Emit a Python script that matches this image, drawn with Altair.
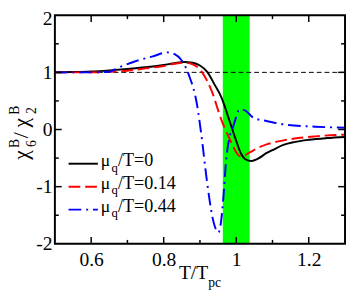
import altair as alt
import pandas as pd

# ---- data ----
x_black = [0.5, 0.55, 0.6, 0.65, 0.7, 0.75, 0.8, 0.83, 0.855, 0.88, 0.9, 0.92, 0.94, 0.96, 0.98, 1.0, 1.013, 1.025, 1.042, 1.06, 1.084, 1.1, 1.13, 1.16, 1.2, 1.25, 1.3]
y_black = [1.0, 1.005, 1.015, 1.035, 1.06, 1.09, 1.13, 1.16, 1.18, 1.17, 1.12, 1.01, 0.79, 0.55, 0.18, -0.2, -0.42, -0.52, -0.55, -0.51, -0.41, -0.36, -0.27, -0.22, -0.18, -0.15, -0.13]

x_red = [0.5, 0.55, 0.6, 0.65, 0.7, 0.75, 0.8, 0.83, 0.855, 0.88, 0.905, 0.932, 0.959, 0.977, 0.99, 1.0, 1.008, 1.017, 1.035, 1.06, 1.084, 1.1, 1.13, 1.17, 1.218, 1.26, 1.3]
y_red = [1.0, 1.0, 1.0, 1.01, 1.03, 1.07, 1.11, 1.15, 1.17, 1.14, 1.01, 0.68, 0.17, -0.1, -0.27, -0.4, -0.46, -0.47, -0.41, -0.32, -0.26, -0.23, -0.19, -0.15, -0.12, -0.1, -0.09]

x_blue = [0.5, 0.55, 0.6, 0.65, 0.67, 0.72, 0.77, 0.811, 0.83, 0.847, 0.869, 0.892, 0.904, 0.919, 0.935, 0.945, 0.951, 0.958, 0.965, 0.972, 0.98, 0.99, 1.0, 1.008, 1.022, 1.049, 1.084, 1.13, 1.218, 1.3]
y_blue = [1.0, 1.0, 1.0, 1.01, 1.07, 1.19, 1.28, 1.35, 1.32, 1.23, 0.96, 0.43, -0.1, -0.89, -1.55, -1.76, -1.8, -1.62, -1.15, -0.55, -0.18, 0.02, 0.22, 0.35, 0.34, 0.2, 0.15, 0.09, 0.05, 0.03]

band_range = [0.963, 1.037]
ref_level = [1.0]
x_major_ticks = [0.6, 0.8, 1.0, 1.2]
x_minor_ticks = [0.7, 0.9, 1.1]
y_major_ticks = [-1, 0, 1]
y_minor_ticks = [-1.5, -0.5, 0.5, 1.5]
x_tick_labels = [0.6, 0.8, 1.0, 1.2]
y_tick_labels = [-2, -1, 0, 1, 2]
legend_labels = ["/T=0", "/T=0.14", "/T=0.44"]

# ---- layout ----
TOP = 4
W, H = 297, 238 - TOP
SERIF = "Liberation Serif"
xs = alt.Scale(domain=[0.5, 1.3], nice=False, zero=False)
ys = alt.Scale(domain=[-2, 2], nice=False, zero=False)
xaxis = alt.Axis(values=x_tick_labels, format="~g", domain=False, ticks=False, grid=False,
                 title=None, labelFont=SERIF, labelFontSize=20, labelColor="black",
                 labelPadding=6, labelFlush=False, labelOverlap=False)
yaxis = alt.Axis(values=y_tick_labels, labelExpr="'' + datum.value", domain=False, ticks=False,
                 grid=False, title=None, labelFont=SERIF, labelFontSize=20, labelColor="black",
                 labelPadding=3, labelFlush=False, labelOverlap=False,
                 labelOffset={"condition": {"test": "datum.value == 2", "value": 3}, "value": 0})

layers = []

band = alt.Chart(pd.DataFrame({"lo": [band_range[0]], "hi": [band_range[1]]})).mark_rect(
    color="#00ff00").encode(x=alt.X("lo:Q", scale=xs, axis=xaxis), x2="hi:Q",
                            y=alt.value(0), y2=alt.value(H))
layers.append(band)

ref = alt.Chart(pd.DataFrame({"v": ref_level})).mark_rule(
    color="black", strokeWidth=1, strokeDash=[5, 3]).encode(y=alt.Y("v:Q", scale=ys, axis=yaxis))
layers.append(ref)


def curve(xv, yv, color, **kw):
    df = pd.DataFrame({"x": xv, "y": yv})
    return alt.Chart(df).mark_line(color=color, strokeWidth=2, interpolate="monotone", **kw).encode(
        x=alt.X("x:Q", scale=xs, axis=xaxis), y=alt.Y("y:Q", scale=ys, axis=yaxis))


layers.append(curve(x_black, y_black, "black"))
layers.append(curve(x_red, y_red, "#ff0000", strokeDash=[12, 5]))
layers.append(curve(x_blue, y_blue, "#0000ff", strokeDash=[13, 5, 2, 5]))


def xticks(vals, length):
    df = pd.DataFrame({"v": vals})
    base = alt.Chart(df).mark_rule(color="black", strokeWidth=1.5)
    enc = alt.X("v:Q", scale=xs, axis=xaxis)
    return [base.encode(x=enc, y=alt.value(H), y2=alt.value(H - length)),
            base.encode(x=enc, y=alt.value(0), y2=alt.value(length))]


def yticks(vals, length):
    df = pd.DataFrame({"v": vals})
    base = alt.Chart(df).mark_rule(color="black", strokeWidth=1.5)
    enc = alt.Y("v:Q", scale=ys, axis=yaxis)
    return [base.encode(y=enc, x=alt.value(0), x2=alt.value(length)),
            base.encode(y=enc, x=alt.value(W), x2=alt.value(W - length))]


layers += xticks(x_major_ticks, 7) + xticks(x_minor_ticks, 4)
layers += yticks(y_major_ticks, 7) + yticks(y_minor_ticks, 4)

one = alt.Data(values=[{}])
frame = alt.Chart(one).mark_rect(fillOpacity=0, stroke="black", strokeWidth=2).encode(
    x=alt.value(0), x2=alt.value(W), y=alt.value(0), y2=alt.value(H))
layers.append(frame)


def txt(s, x, y, size, angle=0):
    kw = {}
    if angle:
        kw["angle"] = angle
    return alt.Chart(one).mark_text(text=s, font=SERIF, fontSize=size, color="black",
                                    align="left", baseline="alphabetic", **kw).encode(
        x=alt.value(x), y=alt.value(y))


# page -> plot coordinates
ox, oy = 56, 8 + TOP

# legend
leg_colors = ["black", "#ff0000", "#0000ff"]
leg_dash = [None, [12, 5], [13, 5, 2, 5]]
for i, lab in enumerate(legend_labels):
    ly = 164 - oy + i * 23.5
    kw = {}
    if leg_dash[i]:
        kw["strokeDash"] = leg_dash[i]
    layers.append(alt.Chart(one).mark_rule(color=leg_colors[i], strokeWidth=2, **kw).encode(
        x=alt.value(14), x2=alt.value(44), y=alt.value(ly), y2=alt.value(ly)))
    layers.append(txt("μ", 47, ly + 2, 18))
    layers.append(txt("q", 58, ly + 8, 13))
    layers.append(txt(lab, 64.5, ly + 2, 18.5))

# x title
layers.append(txt("T/T", 183 - ox, 282 - oy, 20))
layers.append(txt("pc", 213 - ox, 290 - oy, 14))

# y title (rotated)
layers.append(txt("χ", 28 - ox, 160 - oy, 22, 270))
layers.append(txt("6", 37 - ox, 147 - oy, 14, 270))
layers.append(txt("B", 19 - ox, 148 - oy, 14, 270))
layers.append(txt("/", 28 - ox, 138 - oy, 22, 270))
layers.append(txt("χ", 28 - ox, 127 - oy, 22, 270))
layers.append(txt("2", 37 - ox, 113 - oy, 14, 270))
layers.append(txt("B", 19 - ox, 114 - oy, 14, 270))

chart = alt.layer(*layers).properties(
    width=W, height=H,
    padding={"left": 48, "top": TOP, "right": 1, "bottom": 49},
    autosize=alt.AutoSizeParams(type="none"),
).configure_view(strokeWidth=0)

chart.save("out.html", embed_options={"renderer": "svg", "actions": False})
